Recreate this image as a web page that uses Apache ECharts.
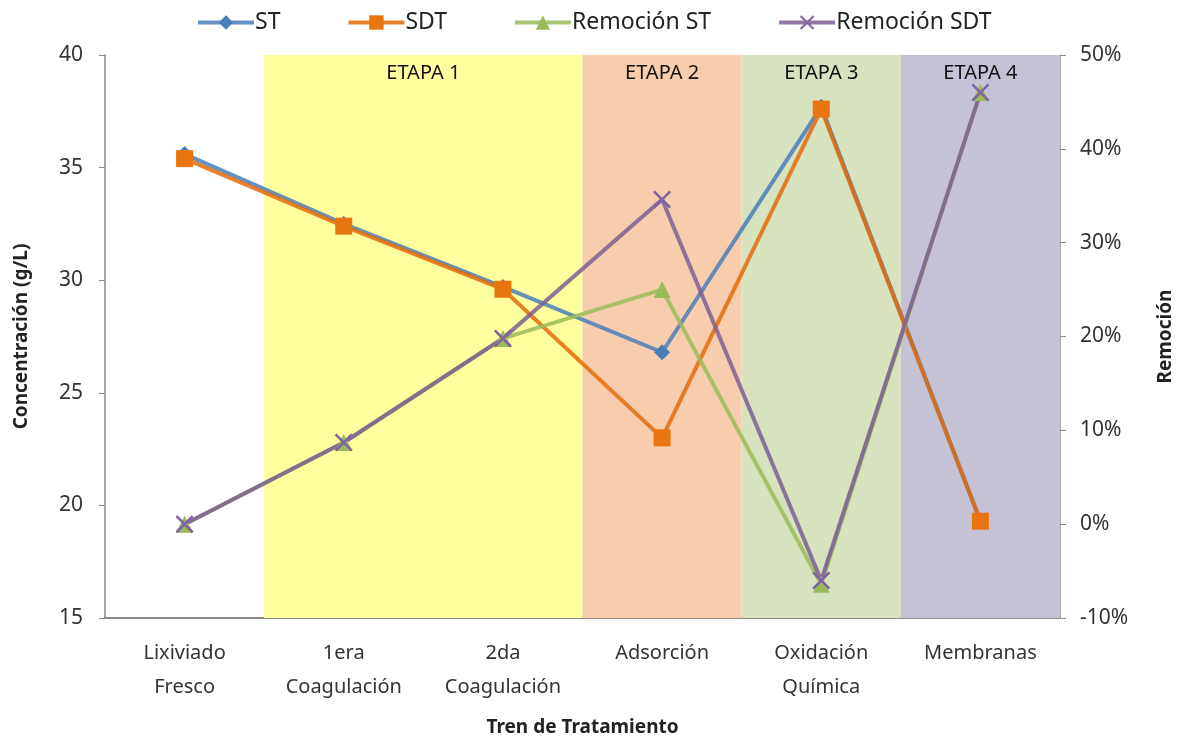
<!DOCTYPE html>
<html><head><meta charset="utf-8">
<script src="https://cdn.jsdelivr.net/npm/echarts@6/dist/echarts.min.js"></script>
<style>html,body{margin:0;padding:0;background:#fff}#c{width:1189px;height:742px}</style>
</head><body><div id="c"></div>
<script>
const categories = ['Lixiviado\nFresco','1era\nCoagulación','2da\nCoagulación','Adsorción','Oxidación\nQuímica','Membranas'];
const st = [35.6, 32.5, 29.7, 26.8, 37.7, 19.3];
const sdt = [35.4, 32.4, 29.6, 23.0, 37.6, 19.3];
const remST = [0, 8.7, 19.8, 25.0, -6.4, 46.0];
const remSDT = [0, 8.7, 19.8, 34.6, -6.0, 46.0];
const leftTicks = {min: 15, max: 40, interval: 5};
const rightTicks = {min: -10, max: 50, interval: 10};
const stages = [
  {name: 'ETAPA 1', from: 1, to: 3, color: '#FFFF9E'},
  {name: 'ETAPA 2', from: 3, to: 4, color: '#F8CDAE'},
  {name: 'ETAPA 3', from: 4, to: 5, color: '#D7E3BE'},
  {name: 'ETAPA 4', from: 5, to: 6, color: '#C6C2D5'}
];
const FONT = 'Noto Sans';
const xShape = 'path://M0,1L1,0L5,4L9,0L10,1L6,5L10,9L9,10L5,6L1,10L0,9L4,5Z';
const chart = echarts.init(document.getElementById('c'));
const axisLineGray = '#8a8a8a';
chart.setOption({
  animation: false,
  textStyle: {fontFamily: FONT},
  grid: {left: 105, right: 129, top: 55, bottom: 124},
  legend: {
    top: 6, left: 191, itemGap: 66, itemWidth: 56, itemHeight: 18,
    lineStyle: {width: 4},
    textStyle: {fontSize: 23, color: '#222', fontFamily: FONT, padding: [0, 0, 0, -4]},
    data: ['ST','SDT','Remoción ST','Remoción SDT']
  },
  xAxis: [{
    type: 'category', data: categories, boundaryGap: true,
    axisLine: {onZero: false, lineStyle: {color: axisLineGray, width: 2}},
    axisTick: {interval: 0, length: 6, lineStyle: {color: axisLineGray}},
    axisLabel: {interval: 0, fontSize: 20, color: '#333', lineHeight: 34, margin: 18, fontFamily: FONT},
    name: 'Tren de Tratamiento', nameLocation: 'middle', nameGap: 100,
    nameTextStyle: {fontSize: 19, fontWeight: 'bold', color: '#222', fontFamily: FONT}
  }, {
    type: 'value', min: 0, max: 6, show: false
  }],
  yAxis: [{
    type: 'value', min: leftTicks.min, max: leftTicks.max, interval: leftTicks.interval,
    splitLine: {show: false},
    axisLine: {show: true, lineStyle: {color: axisLineGray, width: 1.5}},
    axisTick: {show: true, length: 6, lineStyle: {color: axisLineGray}},
    axisLabel: {fontSize: 21, color: '#333', margin: 22, fontFamily: FONT},
    name: 'Concentración (g/L)', nameLocation: 'middle', nameGap: 74, nameRotate: 90,
    nameTextStyle: {fontSize: 19, fontWeight: 'bold', color: '#222', fontFamily: FONT}
  }, {
    type: 'value', min: rightTicks.min, max: rightTicks.max, interval: rightTicks.interval,
    position: 'right', splitLine: {show: false},
    axisLine: {show: true, lineStyle: {color: axisLineGray, width: 1.5}},
    axisTick: {show: true, length: 6, lineStyle: {color: axisLineGray}},
    axisLabel: {fontSize: 21, color: '#333', margin: 20, formatter: '{value}%', fontFamily: FONT},
    name: 'Remoción', nameLocation: 'middle', nameGap: 96, nameRotate: 90,
    nameTextStyle: {fontSize: 19, fontWeight: 'bold', color: '#222', fontFamily: FONT}
  }],
  series: [
    {
      type: 'line', xAxisIndex: 1, yAxisIndex: 0, data: [], silent: true,
      markArea: {
        silent: true,
        label: {show: true, position: 'insideTop', distance: 8, fontSize: 20, color: '#111', fontFamily: FONT},
        data: stages.map(s => [
          {xAxis: s.from, name: s.name, itemStyle: {color: s.color},
           label: {show: true, position: 'insideTop', distance: 8, fontSize: 20, color: '#111', fontFamily: FONT}},
          {xAxis: s.to}
        ])
      }
    },
    {
      name: 'ST', type: 'line', data: st, yAxisIndex: 0,
      symbol: 'diamond', symbolSize: 16,
      lineStyle: {color: '#4A7EBB', width: 4, opacity: 0.85},
      itemStyle: {color: '#4A7EBB'}
    },
    {
      name: 'SDT', type: 'line', data: sdt, yAxisIndex: 0,
      symbol: 'rect', symbolSize: 17,
      lineStyle: {color: '#E46C0A', width: 4, opacity: 0.85},
      itemStyle: {color: '#E8750F'}
    },
    {
      name: 'Remoción ST', type: 'line', data: remST, yAxisIndex: 1,
      symbol: 'triangle', symbolSize: 17,
      lineStyle: {color: '#9BBB59', width: 4, opacity: 0.85},
      itemStyle: {color: '#9BBB59'}
    },
    {
      name: 'Remoción SDT', type: 'line', data: remSDT, yAxisIndex: 1,
      symbol: xShape, symbolSize: 18,
      lineStyle: {color: '#7D5F95', width: 4, opacity: 0.85},
      itemStyle: {color: '#8064A2'}
    }
  ]
});
</script></body></html>
